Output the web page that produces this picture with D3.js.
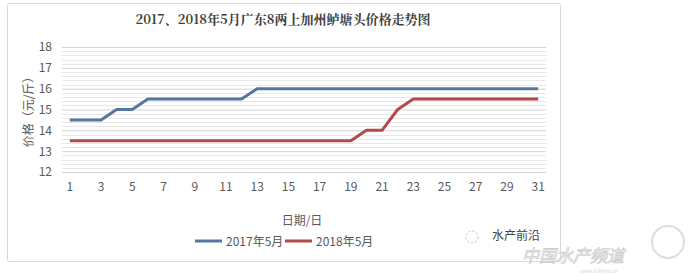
<!DOCTYPE html>
<html><head><meta charset="utf-8">
<script src="https://cdn.jsdelivr.net/npm/d3@7"></script>
<style>body{margin:0;background:#fff}svg{display:block}</style>
</head><body>
<script>
const days = d3.range(1, 32);
const series2017 = [14.5,14.5,14.5,15,15,15.5,15.5,15.5,15.5,15.5,15.5,15.5,16,16,16,16,16,16,16,16,16,16,16,16,16,16,16,16,16,16,16];
const series2018 = [13.5,13.5,13.5,13.5,13.5,13.5,13.5,13.5,13.5,13.5,13.5,13.5,13.5,13.5,13.5,13.5,13.5,13.5,13.5,14,14,15,15.5,15.5,15.5,15.5,15.5,15.5,15.5,15.5,15.5];
const seriesNames = ["2017年5月", "2018年5月"];
const yTicks = [12,13,14,15,16,17,18];
const xTickLabels = [1,3,5,7,9,11,13,15,17,19,21,23,25,27,29,31];
const title = "2017、2018年5月广东8两上加州鲈塘头价格走势图";
const colors = ["#5578a2", "#b04b4d"];

const W = 698, H = 274;
const svg = d3.select("body").append("svg").attr("width", W).attr("height", H);
const font = "'Microsoft YaHei','Noto Sans CJK SC',sans-serif";

svg.append("rect").attr("x", 7.5).attr("y", 3.5).attr("width", 553).attr("height", 258)
  .attr("fill", "#fff").attr("stroke", "#d9d9d9").attr("rx", 2);

const x = d3.scaleBand().domain(days).range([62, 546]);
const y = d3.scaleLinear().domain([12, 18]).range([172, 47]);

// minor gridlines
const minor = d3.range(12, 18.001, 0.2).filter(v => Math.abs(v - Math.round(v)) > 1e-6);
svg.append("g").selectAll("line").data(minor).join("line")
  .attr("x1", 62).attr("x2", 546).attr("y1", d => Math.round(y(d)) + 0.5).attr("y2", d => Math.round(y(d)) + 0.5)
  .attr("stroke", "#e8e8e8").attr("stroke-width", 1);

const yAxis = svg.append("g").attr("transform", "translate(62,0)")
  .call(d3.axisLeft(y).tickValues(yTicks).tickSize(-484).tickPadding(10).tickFormat(d3.format("d")));
yAxis.select(".domain").remove();
yAxis.selectAll("line").attr("stroke", "#d4d4d4");
yAxis.selectAll("text").attr("fill", "#595959").style("font-size", "12px").style("font-family", font);

const xAxis = svg.append("g").attr("transform", "translate(0,172)")
  .call(d3.axisBottom(x).tickValues(xTickLabels).tickSize(0).tickPadding(10));
xAxis.select(".domain").remove();
xAxis.selectAll("text").attr("fill", "#595959").style("font-size", "12px").style("font-family", font);

const line = d3.line().x((d, i) => x(days[i]) + x.bandwidth() / 2).y(d => y(d));
[series2017, series2018].forEach((s, i) => {
  svg.append("path").datum(s).attr("d", line).attr("fill", "none")
    .attr("stroke", colors[i]).attr("stroke-width", 3).attr("stroke-linejoin", "round");
});

svg.append("text").attr("x", 283).attr("y", 24).attr("text-anchor", "middle")
  .attr("fill", "#404040").style("font-size", "13px").style("font-weight", "bold")
  .style("font-family", "'Noto Serif CJK SC','Noto Sans CJK SC',serif").text(title);

svg.append("text").attr("transform", "translate(33,109) rotate(-90)").attr("text-anchor", "middle")
  .attr("fill", "#595959").style("font-size", "12px").style("font-family", font).text("价格（元/斤）");

svg.append("text").attr("x", 302).attr("y", 225).attr("text-anchor", "middle")
  .attr("fill", "#595959").style("font-size", "12px").style("font-family", font).text("日期/日");

const leg = [{x: 195}, {x: 285}];
seriesNames.forEach((n, i) => {
  const lx = leg[i].x;
  svg.append("line").attr("x1", lx).attr("x2", lx + 27).attr("y1", 241).attr("y2", 241)
    .attr("stroke", colors[i]).attr("stroke-width", 3);
  svg.append("text").attr("x", lx + 31).attr("y", 245.5).attr("fill", "#595959")
    .style("font-size", "12px").style("font-family", font).text(n);
});

// watermarks
svg.append("circle").attr("cx", 472).attr("cy", 237).attr("r", 6).attr("fill", "none")
  .attr("stroke", "#bbb").attr("stroke-dasharray", "2,2");
svg.append("text").attr("x", 492).attr("y", 240).attr("fill", "#444")
  .style("font-size", "12px").style("font-family", font).text("水产前沿");
svg.append("text").attr("x", 522).attr("y", 262).attr("fill", "none").attr("stroke", "#cfcfcf")
  .attr("stroke-width", 0.8).style("font-size", "17px").style("font-style", "italic")
  .style("font-family", font).text("中国水产频道");
svg.append("text").attr("x", 580).attr("y", 273).attr("fill", "#d8d8d8")
  .style("font-size", "5px").style("font-family", font).text("www.fishfirst.cn");
svg.append("circle").attr("cx", 668).attr("cy", 242).attr("r", 16).attr("fill", "none")
  .attr("stroke", "#ddd").attr("stroke-width", 2);
</script>
</body></html>
